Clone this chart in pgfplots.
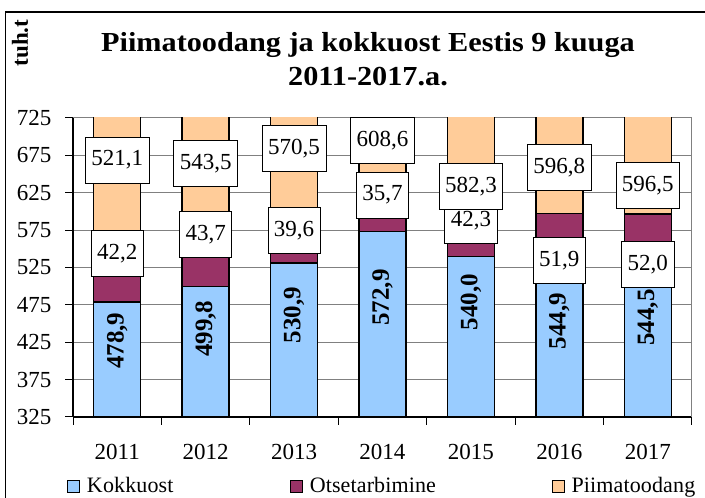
\documentclass[border=0pt]{standalone}
\usepackage{fontspec}
\setmainfont{Liberation Serif}
\newfontfamily\legfont[LetterSpace=0.6]{Liberation Serif}
\usepackage{pgfplots}
\pgfplotsset{compat=1.18}
\usepackage{pgfplotstable}
\definecolor{kokblue}{HTML}{99CCFF}
\definecolor{otsred}{HTML}{993366}
\definecolor{piimor}{HTML}{FFCC99}
\definecolor{gridgray}{HTML}{808080}
\pgfplotsset{sqlegend/.style={legend image code/.code={\draw[##1, draw=black, line width=0.8pt] (0pt,-6pt) rectangle (12pt,6pt);}}}
\tikzset{boxlab/.style={fill=white, draw=black, line width=0.7pt, minimum height=46pt,
    inner xsep=6pt, anchor=center, font=\fontsize{23}{23}\selectfont}}

% x, Kokkuost, Otsetarbimine, Piimatoodang, label positions (y) for each series
\pgfplotstableread{
x kok ots piim kly oly ply
0 478.9 42.2 521.1 427 544 669
1 499.8 43.7 543.5 443 569 664
2 530.9 39.6 570.5 461 574.5 684
3 572.9 35.7 608.6 485 622 695
4 540.0 42.3 582.3 479 588 633
5 544.9 51.9 596.8 453 534 659
6 544.5 52.0 596.5 458 529 635
}\data

\begin{document}
\begin{tikzpicture}
\useasboundingbox (0,0) rectangle (705pt,498pt);
\fill[white] (0,0) rectangle (705pt,498pt);
\draw[line width=1.2pt] (5.5pt,-10pt) rectangle (720pt,486pt);
\node[anchor=base,inner sep=0] at (368pt,446pt) {\fontsize{27.5}{27}\selectfont\bfseries\scalebox{1.1}[1]{Piimatoodang ja kokkuost Eestis 9 kuuga}};
\node[anchor=base,inner sep=0] at (368pt,412pt) {\fontsize{27.5}{27}\selectfont\bfseries\scalebox{1.1}[1]{2011-2017.a.}};
\node[rotate=90,anchor=center,inner sep=0] at (20pt,455pt) {\fontsize{23}{23}\selectfont\bfseries tuh.t};

\begin{axis}[
  at={(73pt,81pt)}, anchor=south west, scale only axis,
  width=619pt, height=299pt,
  xmin=-0.5, xmax=6.5, ymin=325, ymax=725,
  ybar stacked, bar width=47pt,
  axis x line*=bottom, axis y line*=left,
  axis line style={line width=1.3pt, black, -},
  ytick={325,375,...,725},
  xtick={-0.5,0.5,1.5,2.5,3.5,4.5,5.5,6.5}, xticklabels={},
  extra x ticks={0,1,2,3,4,5,6},
  extra x tick labels={2011,2012,2013,2014,2015,2016,2017},
  extra x tick style={major tick length=0pt, xticklabel style={yshift=-24pt}},
  tick align=outside, major tick length=8pt,
  tick style={black, line width=1pt},
  ymajorgrids, grid style={gridgray, line width=1pt},
  ticklabel style={font=\fontsize{23}{23}\selectfont},
  yticklabel style={xshift=-10pt},
  /pgf/number format/assume math mode=true,
  legend columns=3,
  legend style={at={(-0.0097,-0.231)}, anchor=west, draw=none, fill=none,
    inner sep=0pt, font=\fontsize{22}{22}\selectfont\legfont,
    /tikz/every even column/.append style={column sep=0pt}},
]
\addplot[fill=kokblue, draw=black, line width=1.3pt, sqlegend]
  table[x=x,y=kok]{\data};
\addlegendentry{\makebox[206pt][l]{\hspace{5pt}Kokkuost}}
\addplot[fill=otsred, draw=black, line width=1.3pt, sqlegend]
  table[x=x,y=ots]{\data};
\addlegendentry{\makebox[245pt][l]{\hspace{5pt}Otsetarbimine}}
\addplot[fill=piimor, draw=black, line width=1.3pt, sqlegend]
  table[x=x,y=piim]{\data};
\addlegendentry{\hspace{5pt}Piimatoodang}
\draw[gridgray, line width=1pt] (rel axis cs:1,0) -- (rel axis cs:1,1);
\end{axis}

\begin{axis}[
  at={(73pt,81pt)}, anchor=south west, scale only axis,
  width=619pt, height=299pt,
  xmin=-0.5, xmax=6.5, ymin=325, ymax=725,
  hide axis, clip=false,
  /pgf/number format/.cd, use comma, fixed, fixed zerofill, precision=1, assume math mode=true,
]
\addplot[draw=none, mark=none, nodes near coords, point meta=explicit,
  nodes near coords style={anchor=center, rotate=90, font=\fontsize{25}{25}\selectfont\bfseries}]
  table[x=x,y=kly,meta=kok]{\data};
\addplot[draw=none, mark=none, nodes near coords, point meta=explicit,
  nodes near coords style={boxlab}]
  table[x=x,y=oly,meta=ots]{\data};
\addplot[draw=none, mark=none, nodes near coords, point meta=explicit,
  nodes near coords style={boxlab}]
  table[x=x,y=ply,meta=piim]{\data};
\end{axis}
\end{tikzpicture}
\end{document}
